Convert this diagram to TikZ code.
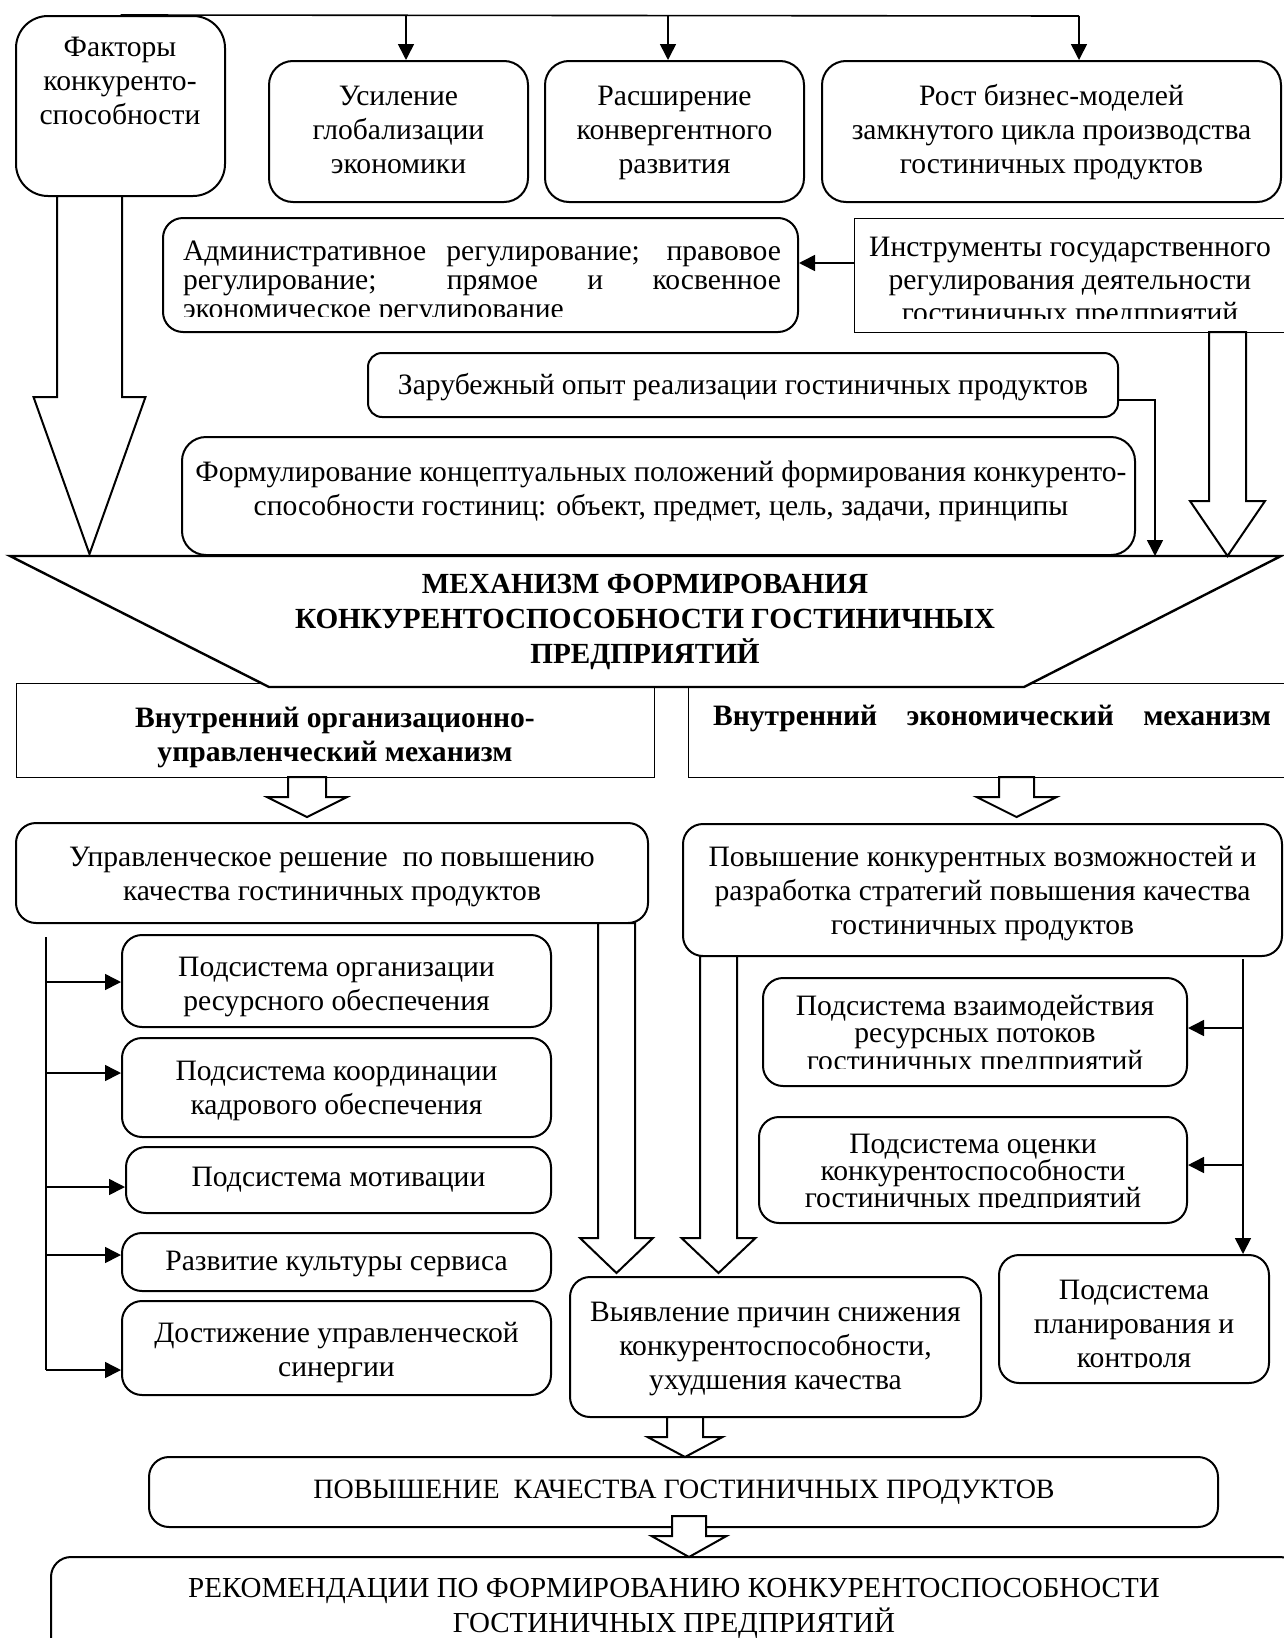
\documentclass[tikz,border=0pt]{standalone}
\usepackage{fontspec}
\setmainfont{Liberation Serif}
\usetikzlibrary{arrows.meta,fit}
\newcommand\fs{\fontsize{14.8}{17}\selectfont}
\newcommand\harrow[6]{% x, ytop, yhead, ytip, shaft half, head half
  \draw[hol] ({#1-#5},#2) -- ({#1-#5},#3) -- ({#1-#6},#3) -- (#1,#4) -- ({#1+#6},#3) -- ({#1+#5},#3) -- ({#1+#5},#2) -- cycle;}
\begin{document}
\begin{tikzpicture}[x=0.5pt,y=-0.5pt,
  rbox/.style={draw, line width=1pt, rounded corners=10pt, fill=white, inner sep=0pt},
  sbox/.style={draw, line width=0.5pt, fill=white, inner sep=0pt},
  txt/.style={inner sep=0pt, align=center, font=\fs},
  conn/.style={line width=0.8pt},
  arr/.style={line width=0.8pt, -{Triangle[length=8pt,width=8pt]}},
  hol/.style={draw, fill=white, line width=1pt, line join=miter}]
\useasboundingbox (0,0) rectangle (1284,1638);
\fill[white] (0,0) rectangle (1284,1638);

% ---- top row
\node[rbox, rounded corners=16pt, fit={(16,16)(225,196)}] (fak) {};
\node[txt] (fakt) at (120,81) {Факторы\\конкуренто-\\способности};
\node[rbox, rounded corners=12pt, fit={(269,61)(528,202)}] (usil) {};
\node[txt] (usilt) at (398.5,130) {Усиление\\глобализации\\экономики};
\node[rbox, rounded corners=12pt, fit={(545,61)(804,202)}] (rasp) {};
\node[txt] (raspt) at (674.5,133) {Расширение\\конвергентного\\развития};
\node[rbox, rounded corners=12pt, fit={(822,61)(1281,202)}] (rost) {};
\node[txt] (rostt) at (1051.5,132) {Рост бизнес-моделей\\замкнутого цикла производства\\гостиничных продуктов};

\coordinate (c1) at (406,16);
\coordinate (c2) at (668,16);
\coordinate (c3) at (1079,16);
\draw[conn] (fak.north) -- (c3);
\draw[arr] (c1) -- (c1 |- usil.north);
\draw[arr] (c2) -- (c2 |- rasp.north);
\draw[arr] (c3) -- (c3 |- rost.north);

% ---- regulation row
\node[rbox, fit={(163,218)(798,332)}] (adm) {};
\begin{scope}
  \clip (165,220) rectangle (796,316);
  \node[txt, text width=299pt, align=justify, font=\fontsize{14.8}{14.5}\selectfont] (admt) at (482,283)
    {Административное регулирование; правовое\linebreak регулирование; прямое и косвенное\linebreak экономическое регулирование};
\end{scope}
\node[sbox, fit={(854,218)(1292,332)}] (instr) {};
\begin{scope}
  \clip (855,219) rectangle (1290,318);
  \node[txt, font=\fontsize{14.8}{16.7}\selectfont] (instrt) at (1070,283)
    {Инструменты государственного\\регулирования деятельности\\гостиничных предприятий};
\end{scope}
\coordinate (ia) at (0,263);
\draw[arr] (instr.west |- ia) -- (adm.east |- ia);

% ---- foreign experience, concept
\node[rbox, rounded corners=7pt, fit={(368,353)(1118,417)}] (zar) {};
\node[txt] (zart) at (743,387) {Зарубежный опыт реализации гостиничных продуктов};
\node[rbox, rounded corners=12pt, fit={(182,437)(1135,555)}] (form) {};
\node[txt] (formt) at (661,491) {Формулирование концептуальных положений формирования конкуренто-\\способности гостиниц: объект, предмет, цель, задачи, принципы};

% ---- inner mechanisms boxes
\node[sbox, fit={(16,683)(654,777)}] (vorg) {};
\node[txt, font=\bfseries\fs] (vorgt) at (335,737) {Внутренний организационно-\\управленческий механизм};
\node[sbox, fit={(688,683)(1292,777)}] (vek) {};
\node[txt, font=\bfseries\fs, text width=279pt, align=left] (vekt) at (992,718) {Внутренний\hfill экономический\hfill механизм};

% ---- funnel
\draw[line width=1.2pt, fill=white, line join=miter] (10,556) -- (1281,556) -- (1024,687) -- (269,687) -- cycle;
\coordinate (ftop) at (0,556);
\node[txt, font=\bfseries\fontsize{14.6}{17.5}\selectfont] (mech) at (645,622)
  {МЕХАНИЗМ ФОРМИРОВАНИЯ\\КОНКУРЕНТОСПОСОБНОСТИ ГОСТИНИЧНЫХ\\ПРЕДПРИЯТИЙ};

\coordinate (zz) at (1155,400);
\draw[arr] (zar.east |- zz) -- (zz) -- (zz |- ftop);

% ---- decision boxes
\node[rbox, fit={(16,823)(648,923)}] (upr) {};
\node[txt] (uprt) at (332,877) {Управленческое решение\ \ по повышению\\качества гостиничных продуктов};
\node[rbox, fit={(683,824)(1282,956)}] (pk) {};
\node[txt] (pkt) at (982.5,894) {Повышение конкурентных возможностей и\\разработка стратегий повышения качества\\гостиничных продуктов};

% ---- left subsystems
\node[rbox, fit={(122,935)(551,1027)}] (s1) {};
\node[txt] (s1t) at (336.5,987) {Подсистема организации\\ресурсного обеспечения};
\node[rbox, fit={(122,1038)(551,1137)}] (s2) {};
\node[txt] (s2t) at (336.5,1091) {Подсистема координации\\кадрового обеспечения};
\node[rbox, fit={(126,1147)(551,1213)}] (s3) {};
\node[txt] (s3t) at (338.5,1180) {Подсистема мотивации};
\node[rbox, fit={(122,1233)(551,1291)}] (s4) {};
\node[txt] (s4t) at (336.5,1264) {Развитие культуры сервиса};
\node[rbox, fit={(122,1301)(551,1395)}] (s5) {};
\node[txt] (s5t) at (336.5,1353) {Достижение управленческой\\синергии};

\coordinate (lb) at (46,937);
\coordinate (a1) at (46,982);
\coordinate (a2) at (46,1073);
\coordinate (a3) at (46,1187);
\coordinate (a4) at (46,1255);
\coordinate (a5) at (46,1370);
\draw[conn] (lb) -- (a5);
\draw[arr] (a1) -- (a1 -| s1.west);
\draw[arr] (a2) -- (a2 -| s2.west);
\draw[arr] (a3) -- (a3 -| s3.west);
\draw[arr] (a4) -- (a4 -| s4.west);
\draw[arr] (a5) -- (a5 -| s5.west);

% ---- right subsystems
\node[rbox, fit={(763,978)(1187,1086)}] (vz) {};
\begin{scope}
  \clip (764,979) rectangle (1186,1068);
  \node[txt, font=\fontsize{14.8}{13.75}\selectfont] (vzt) at (975,1036)
    {Подсистема взаимодействия\\ресурсных потоков\\гостиничных предприятий};
\end{scope}
\node[rbox, fit={(759,1117)(1187,1223)}] (oc) {};
\begin{scope}
  \clip (760,1118) rectangle (1186,1207);
  \node[txt, font=\fontsize{14.8}{13.5}\selectfont] (oct) at (973,1174)
    {Подсистема оценки\\конкурентоспособности\\гостиничных предприятий};
\end{scope}
\node[rbox, fit={(999,1255)(1269,1383)}] (pl) {};
\begin{scope}
  \clip (1000,1256) rectangle (1268,1367);
  \node[txt] (plt) at (1134,1327) {Подсистема\\планирования и\\контроля};
\end{scope}

\coordinate (rt) at (1243,959);
\coordinate (b1) at (1243,1028);
\coordinate (b2) at (1243,1165);
\draw[arr] (rt) -- (rt |- pl.north);
\draw[arr] (b1) -- (b1 -| vz.east);
\draw[arr] (b2) -- (b2 -| oc.east);

% ---- bottom
\node[rbox, fit={(570,1277)(981,1417)}] (vyy) {};
\node[txt] (vyyt) at (775.5,1349) {Выявление причин снижения\\конкурентоспособности,\\ухудшения качества};
\node[rbox, fit={(149,1457)(1218,1527)}] (pov) {};
\node[txt, font=\fontsize{14}{17}\selectfont] (povt) at (684,1492) {ПОВЫШЕНИЕ\ \ КАЧЕСТВА ГОСТИНИЧНЫХ ПРОДУКТОВ};
\node[rbox, fit={(51,1557)(1300,1700)}] (rek) {};
\node[txt, font=\fontsize{14.5}{17.5}\selectfont] (rekt) at (674,1608) {РЕКОМЕНДАЦИИ ПО ФОРМИРОВАНИЮ КОНКУРЕНТОСПОСОБНОСТИ\\ГОСТИНИЧНЫХ ПРЕДПРИЯТИЙ};

% ---- hollow block arrows
\harrow{89.5}{196}{397}{554}{32.5}{56}
\harrow{1227.5}{332}{501}{556}{18.5}{37.5}
\harrow{307}{777}{797}{817}{19}{40}
\harrow{1016.5}{777}{797}{817}{17.5}{40}
\harrow{616.5}{923}{1238}{1273}{18.5}{36.5}
\harrow{718.5}{956}{1238}{1273}{18.5}{37}
\harrow{685}{1417}{1437}{1457}{18}{37.5}
\harrow{689}{1516}{1536}{1557}{17}{37.5}
\end{tikzpicture}
\end{document}
